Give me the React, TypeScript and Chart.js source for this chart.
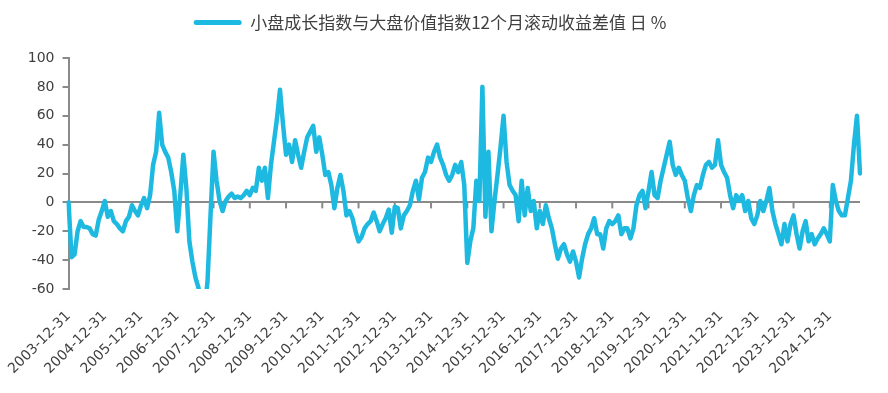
import React, { useEffect, useRef } from "react";
import { Chart, registerables } from "chart.js";

Chart.register(...registerables);

// Series name (legend)
const seriesName = "小盘成长指数与大盘价值指数12个月滚动收益差值 日 %";

const spreadValues: number[] = [
  0, // 2003-12
  -38, -36, -20, -13, -17, -17, -18, -22, -23, -12, -6, 1, // 2004
  -10, -6, -13, -15, -18, -20, -13, -10, -2, -6, -9, -2, // 2005
  3, -4, 5, 26, 35, 62, 40, 35, 31, 21, 8, -20, // 2006
  5, 33, 10, -27, -41, -52, -59, -70, -75, -55, -9, 35, // 2007
  15, 1, -6, 1, 4, 6, 3, 4, 3, 5, 8, 5, // 2008
  10, 8, 24, 15, 24, 3, 26, 42, 58, 78, 54, 33, // 2009
  40, 28, 43, 33, 24, 35, 45, 49, 53, 35, 45, 33, // 2010
  19, 21, 12, -4, 10, 19, 8, -9, -6, -11, -20, -27, // 2011
  -24, -18, -15, -13, -7, -13, -20, -15, -11, -5, -21, -3, // 2012
  -4, -18, -9, -6, -2, 8, 15, 2, 17, 21, 31, 28, // 2013
  35, 40, 31, 26, 19, 15, 19, 26, 21, 28, 12, -42, // 2014
  -27, -18, 15, 1, 80, -10, 35, -20, 1, 19, 38, 60, // 2015
  28, 12, 8, 5, -13, 15, -9, 10, -6, 1, -18, -6, // 2016
  -15, -2, -11, -18, -29, -39, -32, -29, -36, -41, -34, -41, // 2017
  -52, -39, -29, -22, -18, -11, -22, -22, -32, -18, -13, -15, // 2018
  -13, -9, -22, -18, -18, -25, -18, -2, 5, 8, -4, 8, // 2019
  21, 5, 3, 15, 24, 33, 42, 26, 19, 24, 19, 15, // 2020
  3, -6, 5, 12, 10, 19, 26, 28, 24, 26, 43, 26, // 2021
  21, 17, 5, -4, 5, 1, 5, -6, 1, -11, -15, -9, // 2022
  1, -6, 1, 10, -6, -15, -22, -29, -15, -27, -15, -9, // 2023
  -22, -32, -20, -13, -27, -22, -29, -25, -22, -18, -22, -27, // 2024
  12, 1, -6, -9, -9, 3, 15, 40, 60, 20, // 2025
];

// Category labels: month-end dates from 2003-12-31
const monthEndDates: string[] = spreadValues.map((_, m) => {
  const year = 2003 + Math.floor((11 + m) / 12);
  const month = ((11 + m) % 12) + 1;
  const day = new Date(Date.UTC(year, month, 0)).getUTCDate();
  return `${year}-${String(month).padStart(2, "0")}-${String(day).padStart(2, "0")}`;
});

// Tick labels shown on the x axis
const yearTickLabels: string[] = [
  "2003-12-31", "2004-12-31", "2005-12-31", "2006-12-31", "2007-12-31",
  "2008-12-31", "2009-12-31", "2010-12-31", "2011-12-31", "2012-12-31",
  "2013-12-31", "2014-12-31", "2015-12-31", "2016-12-31", "2017-12-31",
  "2018-12-31", "2019-12-31", "2020-12-31", "2021-12-31", "2022-12-31",
  "2023-12-31", "2024-12-31",
];

const LINE_COLOR = "#1EB9E1";
const AXIS_COLOR = "#8A8A8A";
const TEXT_COLOR = "#404040";
const LATIN_FONT = "'DejaVu Sans', sans-serif";
const CJK_FONT = "'Noto Sans CJK SC', 'Noto Sans', sans-serif";

const legendHeightPlugin = {
  id: "legendHeight",
  beforeLayout(chart: any) {
    const lg = chart.legend;
    if (lg && !lg._patchedFit) {
      const orig = lg.fit;
      lg.fit = function () {
        orig.call(this);
        this.height = 58;
      };
      lg._patchedFit = true;
    }
  },
};

const zeroTicksPlugin = {
  id: "zeroTicks",
  beforeDatasetsDraw(chart: any) {
    const xs = chart.scales.x;
    const ys = chart.scales.y;
    const ctx = chart.ctx;
    const y0 = ys.getPixelForValue(0);
    ctx.save();
    ctx.strokeStyle = AXIS_COLOR;
    ctx.lineWidth = 2;
    yearTickLabels.forEach((lab) => {
      const idx = monthEndDates.indexOf(lab);
      if (idx < 0) return;
      const x = xs.getPixelForValue(idx);
      ctx.beginPath();
      ctx.moveTo(x, y0);
      ctx.lineTo(x, y0 + 6);
      ctx.stroke();
    });
    ctx.restore();
  },
};

export default function App() {
  const ref = useRef<HTMLCanvasElement | null>(null);

  useEffect(() => {
    document.body.style.margin = "0";
    if (!ref.current) return;
    const chart = new Chart(ref.current, {
      type: "line",
      data: {
        labels: monthEndDates,
        datasets: [
          {
            label: seriesName,
            data: spreadValues,
            borderColor: LINE_COLOR,
            backgroundColor: LINE_COLOR,
            borderWidth: 4.5,
            pointRadius: 0,
            tension: 0,
            borderJoinStyle: "round",
            borderCapStyle: "round",
          },
        ],
      },
      options: {
        animation: false,
        responsive: true,
        maintainAspectRatio: false,
        layout: { padding: { left: 0, right: 28, top: 0, bottom: 0 } },
        plugins: {
          tooltip: { enabled: false },
          legend: {
            display: true,
            position: "top",
            labels: {
              boxWidth: 48,
              boxHeight: 5,
              padding: 14,
              color: TEXT_COLOR,
              font: { family: CJK_FONT, size: 17 },
              useBorderRadius: true,
              borderRadius: 2.5,
              generateLabels: () => [
                {
                  text: seriesName,
                  fillStyle: LINE_COLOR,
                  strokeStyle: LINE_COLOR,
                  lineWidth: 0,
                  hidden: false,
                  datasetIndex: 0,
                  borderRadius: 2.5,
                  fontColor: TEXT_COLOR,
                } as any,
              ],
            },
          },
        },
        scales: {
          x: {
            type: "category",
            grid: { display: false },
            border: { display: false },
            ticks: {
              autoSkip: false,
              maxRotation: 45,
              minRotation: 45,
              padding: 11,
              color: TEXT_COLOR,
              font: { family: LATIN_FONT, size: 14 },
              callback: function (this: any, val: any) {
                const lab = this.getLabelForValue(val);
                return yearTickLabels.includes(lab) ? lab : "";
              },
            },
            afterFit: (s: any) => {
              s.height = 104;
            },
          },
          y: {
            min: -60,
            max: 100,
            ticks: {
              stepSize: 20,
              padding: 8,
              color: TEXT_COLOR,
              font: { family: LATIN_FONT, size: 14 },
            },
            grid: {
              drawTicks: true,
              tickLength: 6,
              tickColor: AXIS_COLOR,
              lineWidth: 2,
              color: (c: any) => (c.tick && c.tick.value === 0 ? AXIS_COLOR : "rgba(0,0,0,0)"),
            },
            border: { display: true, color: AXIS_COLOR, width: 2 },
            afterFit: (s: any) => {
              s.width = 67;
            },
          },
        },
      },
      plugins: [legendHeightPlugin, zeroTicksPlugin],
    });
    return () => chart.destroy();
  }, []);

  return (
    <div style={{ position: "fixed", left: 0, top: 0, width: 888, height: 393 }}>
      <canvas ref={ref} />
    </div>
  );
}
